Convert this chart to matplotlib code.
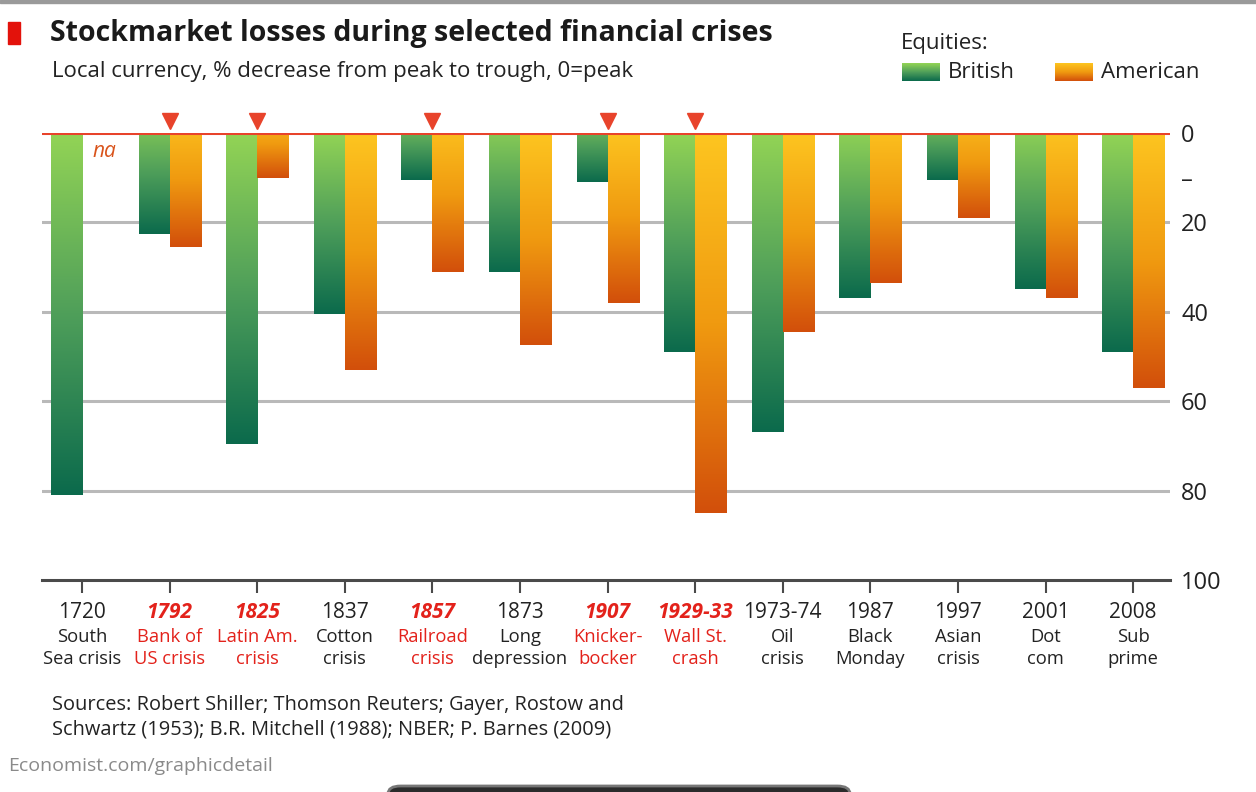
import numpy as np
import matplotlib
matplotlib.use("Agg")
import matplotlib.pyplot as plt
from matplotlib.colors import LinearSegmentedColormap
from matplotlib.patches import Rectangle, FancyBboxPatch
from matplotlib.transforms import blended_transform_factory

# ---------------- data ----------------
years = ["1720", "1792", "1825", "1837", "1857", "1873", "1907",
         "1929-33", "1973-74", "1987", "1997", "2001", "2008"]
desc1 = ["South", "Bank of", "Latin Am.", "Cotton", "Railroad", "Long",
         "Knicker-", "Wall St.", "Oil", "Black", "Asian", "Dot", "Sub"]
desc2 = ["Sea crisis", "US crisis", "crisis", "crisis", "crisis", "depression",
         "bocker", "crash", "crisis", "Monday", "crisis", "com", "prime"]
highlight = [False, True, True, False, True, False, True, True,
             False, False, False, False, False]
british = [81, 22.5, 69.5, 40.5, 10.5, 31, 11, 49, 67, 37, 10.5, 35, 49]
american = [None, 25.5, 10, 53, 31, 47.5, 38, 85, 44.5, 33.5, 19, 37, 57]
yticks = [0, 10, 20, 40, 60, 80, 100]
yticklabels = ["0", "–", "20", "40", "60", "80", "100"]

FONT = ["Open Sans", "DejaVu Sans"]
plt.rcParams["font.family"] = FONT

W, H = 1256, 792
fig = plt.figure(figsize=(W / 100, H / 100), dpi=100)
fig.patch.set_facecolor("white")

def fx(px):
    return px / W

def fy(py):
    return 1 - py / H

ax_left, ax_right, ax_top, ax_bot = 42, 1170, 133, 580
ax = fig.add_axes([fx(ax_left), fy(ax_bot), fx(ax_right - ax_left), (ax_bot - ax_top) / H])
ax.set_facecolor("none")

spacing = 87.6
x0_center = 82
xlim = ((ax_left - x0_center) / spacing, (ax_right - x0_center) / spacing)
ax.set_xlim(*xlim)
ax.set_ylim(100, 0)

green_cmap = LinearSegmentedColormap.from_list("g", ["#93d455", "#4f9f5a", "#0b6a4c"])
orange_cmap = LinearSegmentedColormap.from_list("o", ["#fdc520", "#f09a10", "#d24f0b"])

bw = 0.355
x = np.arange(len(years))

# gridlines
for g in [20, 40, 60, 80]:
    ax.axhline(g, color="#b9b9b9", lw=2.2, zorder=1)

def grad_bar(xl, val, cmap):
    t_top = max(0.0, 0.45 * (1 - val / 40.0))
    grad = np.linspace(t_top, 1, 256).reshape(-1, 1)
    ax.imshow(grad, cmap=cmap, vmin=0, vmax=1, aspect="auto",
              extent=[xl, xl + bw, val, 0], origin="upper", zorder=2,
              interpolation="bilinear")

for i in range(len(years)):
    if british[i] is not None:
        grad_bar(x[i] - bw, british[i], green_cmap)
    if american[i] is not None:
        grad_bar(x[i], american[i], orange_cmap)

ax.set_xlim(*xlim)
ax.set_ylim(100, 0)

# zero line
ax.axhline(0, color="#e8432b", lw=2.2, zorder=4)

# na label
ax.text(x[0] + 0.12, 4.2, "na", color="#d9541c", fontsize=15, style="italic",
        ha="left", va="center", zorder=5)

# markers for highlighted crises
hx = [x[i] for i in range(len(years)) if highlight[i]]
ax.plot(hx, [-2.6] * len(hx), linestyle="none", marker="v", markersize=11,
        color="#e8432b", clip_on=False, zorder=5)

# spines/axes
for s in ["left", "top", "right"]:
    ax.spines[s].set_visible(False)
ax.spines["bottom"].set_color("#4a4a4a")
ax.spines["bottom"].set_linewidth(2.2)
ax.set_xticks(x)
ax.set_xticklabels([])
ax.tick_params(axis="x", length=9, width=1.5, color="#4a4a4a", direction="out")

ax.yaxis.tick_right()
ax.set_yticks(yticks)
ax.set_yticklabels(yticklabels)
ax.tick_params(axis="y", length=0, pad=8, labelsize=17, labelcolor="#222222")

# x labels
tr = blended_transform_factory(ax.transData, fig.transFigure)
for i in range(len(years)):
    c = "#e3221b" if highlight[i] else "#222222"
    ax.text(x[i], fy(613), years[i], transform=tr, ha="center", va="center",
            fontsize=15, color=c, style="italic" if highlight[i] else "normal",
            fontweight="bold" if highlight[i] else "normal")
    ax.text(x[i], fy(637), desc1[i], transform=tr, ha="center", va="center",
            fontsize=13.2, color=c)
    ax.text(x[i], fy(659), desc2[i], transform=tr, ha="center", va="center",
            fontsize=13.2, color=c)

# title block
fig.patches.append(Rectangle((fx(8), fy(44)), fx(12), (44 - 22) / H,
                             transform=fig.transFigure, color="#e3120b"))
fig.text(fx(50), fy(33), "Stockmarket losses during selected financial crises",
         fontsize=20.5, fontweight="bold", color="#1a1a1a", va="center", ha="left")
fig.text(fx(52), fy(72), "Local currency, % decrease from peak to trough, 0=peak",
         fontsize=16, color="#222222", va="center", ha="left")

# legend
fig.text(fx(901), fy(44), "Equities:", fontsize=16, color="#222222", va="center")
lg_g = np.linspace(0, 1, 64).reshape(-1, 1)
for (lx, cmap, name) in [(902, green_cmap, "British"), (1055, orange_cmap, "American")]:
    lax = fig.add_axes([fx(lx), fy(81), fx(38), 18 / H])
    lax.imshow(lg_g, cmap=cmap, vmin=0, vmax=1, aspect="auto")
    lax.axis("off")
    fig.text(fx(lx + 46), fy(72), name, fontsize=16, color="#222222", va="center")

# sources
fig.text(fx(52), fy(705), "Sources: Robert Shiller; Thomson Reuters; Gayer, Rostow and",
         fontsize=14.4, color="#222222", va="center")
fig.text(fx(52), fy(730), "Schwartz (1953); B.R. Mitchell (1988); NBER; P. Barnes (2009)",
         fontsize=14.4, color="#222222", va="center")
fig.text(fx(8), fy(766), "Economist.com/graphicdetail", fontsize=14,
         color="#8a8a8a", va="center")

# top border and bottom artifact
fig.patches.append(Rectangle((0, fy(3)), 1, 3 / H, transform=fig.transFigure,
                             color="#9a9a9a"))
fig.patches.append(FancyBboxPatch((fx(388), fy(800)), fx(462), 14 / H,
                                  boxstyle="round,pad=0,rounding_size=0.01",
                                  transform=fig.transFigure, facecolor="#2b2b2b",
                                  edgecolor="#777777", lw=2))

fig.savefig("out.png", dpi=100, facecolor="white")
